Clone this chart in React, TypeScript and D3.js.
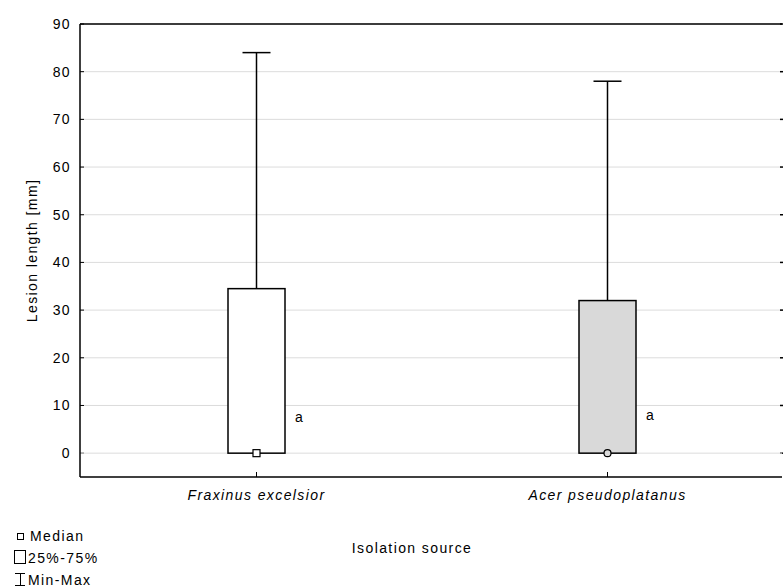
import React from "react";
import * as d3 from "d3";

const categories = ["Fraxinus excelsior", "Acer pseudoplatanus"];
const mins = [0, 0];
const q1 = [0, 0];
const medians = [0, 0];
const q3 = [34.5, 32];
const maxs = [84, 78];
const fills = ["#ffffff", "#d9d9d9"];
const medianShapes = ["square", "circle"];
const letters = ["a", "a"];
const letterValues = [7.5, 8];
const yTicks = [0, 10, 20, 30, 40, 50, 60, 70, 80, 90];

const W = 783, H = 588;
const left = 80, right = 782, top = 24, bottom = 477;
const font = "Arial, 'Liberation Sans', sans-serif";
const ls = 1.4;

export default function App() {
  const y = d3.scaleLinear().domain([-5, 90]).range([bottom, top]);
  const x = d3.scaleBand().domain(categories).range([left + 1, right + 1]);
  const bw = 57;
  return (
    <svg width={W} height={H} style={{ position: "absolute", left: 0, top: 0 }} fontFamily={font}>
      <rect width={W} height={H} fill="#fff" />
      {yTicks.map((t) => (
        <g key={t}>
          {t > 0 && <line x1={left} x2={right} y1={y(t)} y2={y(t)} stroke="#dcdcdc" strokeWidth={1} />}
          <line x1={left} x2={left + 4} y1={y(t)} y2={y(t)} stroke="#000" />
          <line x1={right - 2} x2={right + 1} y1={y(t)} y2={y(t)} stroke="#000" strokeWidth={1.5} />
          <text x={left - 9} y={y(t)} dy="0.35em" textAnchor="end" fontSize={14} letterSpacing={ls}>{t}</text>
        </g>
      ))}
      <line x1={left} x2={right} y1={y(0)} y2={y(0)} stroke="#dcdcdc" />
      <line x1={left} x2={right} y1={top} y2={top} stroke="#000" strokeWidth={1.5} />
      <line x1={left} x2={right} y1={bottom} y2={bottom} stroke="#000" strokeWidth={1.5} />
      <line x1={left} x2={left} y1={top} y2={bottom} stroke="#000" strokeWidth={1.5} />
      {categories.map((c, i) => {
        const cx = Math.round((x(c) as number) + x.bandwidth() / 2) - 0.5;
        const x0 = cx - bw / 2;
        return (
          <g key={c}>
            <line x1={cx} x2={cx} y1={bottom} y2={bottom - 5} stroke="#000" />
            <line x1={cx} x2={cx} y1={y(q3[i])} y2={y(maxs[i])} stroke="#000" strokeWidth={1.5} />
            <line x1={cx - 14} x2={cx + 14} y1={y(maxs[i])} y2={y(maxs[i])} stroke="#000" strokeWidth={1.5} />
            <line x1={cx} x2={cx} y1={y(q1[i])} y2={y(mins[i])} stroke="#000" strokeWidth={1.5} />
            <rect x={x0} y={y(q3[i])} width={bw} height={y(q1[i]) - y(q3[i])} fill={fills[i]} stroke="#000" strokeWidth={1.5} />
            {medianShapes[i] === "square" ? (
              <rect x={cx - 3.5} y={y(medians[i]) - 3.5} width={7} height={7} fill="#fff" stroke="#000" strokeWidth={1.2} />
            ) : (
              <circle cx={cx} cy={y(medians[i])} r={3.5} fill={fills[i]} stroke="#000" strokeWidth={1.2} />
            )}
            <text x={x0 + bw + 10} y={y(letterValues[i])} dy="0.35em" fontSize={14}>{letters[i]}</text>
            <text x={cx} y={bottom + 23} textAnchor="middle" fontSize={14} fontStyle="italic" letterSpacing={ls}>{c}</text>
          </g>
        );
      })}
      <text x={412} y={553} textAnchor="middle" fontSize={14} letterSpacing={ls}>Isolation source</text>
      <text transform={`translate(37,${(top + bottom) / 2}) rotate(-90)`} textAnchor="middle" fontSize={14} letterSpacing={ls}>Lesion length [mm]</text>
      <rect x={17.5} y={533.5} width={6} height={6} fill="#fff" stroke="#000" />
      <text x={30} y={541} fontSize={14} letterSpacing={ls}>Median</text>
      <rect x={14.5} y={550.5} width={11} height={13} fill="#fff" stroke="#000" />
      <text x={28} y={563} fontSize={14} letterSpacing={ls}>25%-75%</text>
      <line x1={15} x2={25} y1={573.5} y2={573.5} stroke="#000" />
      <line x1={15} x2={25} y1={585.5} y2={585.5} stroke="#000" />
      <line x1={20.5} x2={20.5} y1={573.5} y2={585.5} stroke="#000" />
      <text x={28} y={585} fontSize={14} letterSpacing={ls}>Min-Max</text>
    </svg>
  );
}
